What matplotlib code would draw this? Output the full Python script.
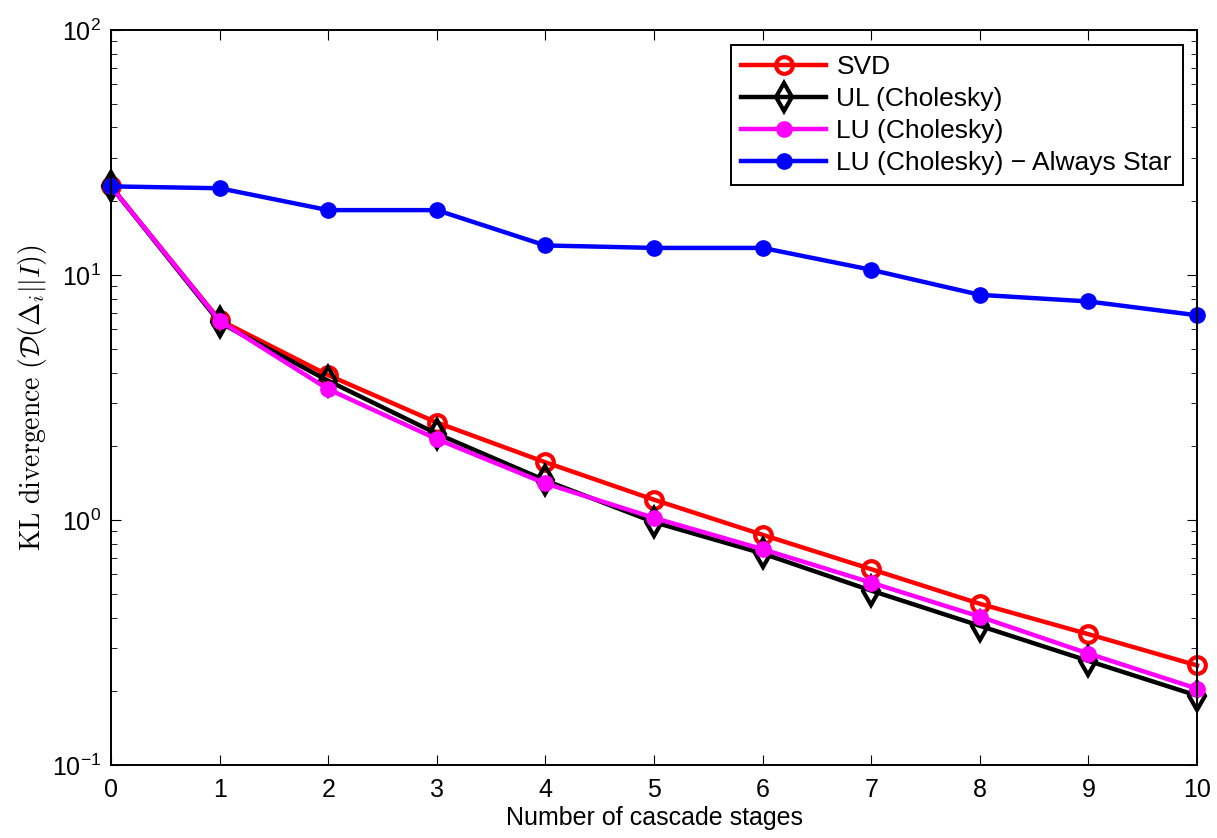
import numpy as np
import matplotlib
matplotlib.use('Agg')
import matplotlib.pyplot as plt

# ********************************* Data *********************************
stages = np.arange(0, 11)
svd = [23.0, 6.55, 3.9, 2.5, 1.72, 1.21, 0.87, 0.63, 0.455, 0.342, 0.255]
ul_chol = [23.0, 6.4, 3.7, 2.25, 1.45, 0.98, 0.73, 0.515, 0.37, 0.266, 0.192]
lu_chol = [23.0, 6.5, 3.42, 2.14, 1.41, 1.02, 0.76, 0.555, 0.403, 0.285, 0.205]
lu_star = [23.0, 22.6, 18.4, 18.4, 13.2, 12.9, 12.9, 10.5, 8.3, 7.8, 6.85]

plt.rcParams['font.family'] = ['Liberation Sans', 'DejaVu Sans']
plt.rcParams['mathtext.fontset'] = 'cm'

fig = plt.figure(figsize=(12.17, 8.38), dpi=100)
ax = fig.add_axes([0.0912, 0.0871, 0.8924, 0.8771])

lw = 3.2
ax.semilogy(stages, svd, color='red', lw=lw, marker='o', ms=12, mfc='none', mec='red', mew=3,
            clip_on=False, label='SVD')
ax.semilogy(stages, ul_chol, color='black', lw=lw, marker='d', ms=14, mfc='none', mec='black', mew=3,
            clip_on=False, label='UL (Cholesky)')
ax.semilogy(stages, lu_chol, color='magenta', lw=lw, marker='o', ms=11, mfc='magenta', mec='magenta',
            clip_on=False, label='LU (Cholesky)')
ax.semilogy(stages, lu_star, color='blue', lw=lw, marker='o', ms=11, mfc='blue', mec='blue',
            clip_on=False, label='LU (Cholesky) \u2212 Always Star')

ax.set_xlim(0, 10)
ax.set_ylim(1e-1, 1e2)
ax.set_xticks(stages)
ax.tick_params(axis='both', which='both', direction='in', top=True, right=True, labelsize=18)
ax.tick_params(which='major', length=7)
ax.tick_params(which='minor', length=4)
ax.tick_params(axis='x', pad=9)
ax.tick_params(axis='y', pad=7)
for s in ax.spines.values():
    s.set_linewidth(1.4)

ax.set_xlabel('Number of cascade stages', fontsize=18, labelpad=3)
ax.set_ylabel(r'$\mathrm{KL\ divergence\ }(\mathcal{D}(\Delta_i||I))$', fontsize=20, labelpad=2)

leg = ax.legend(loc='upper right', fontsize=19, fancybox=False, framealpha=1,
                edgecolor='black', handlelength=3.2, borderaxespad=0.55,
                labelspacing=0.3, borderpad=0.4, handletextpad=0.4)
leg.get_frame().set_linewidth(1.4)

fig.savefig('out.png', dpi=100)
